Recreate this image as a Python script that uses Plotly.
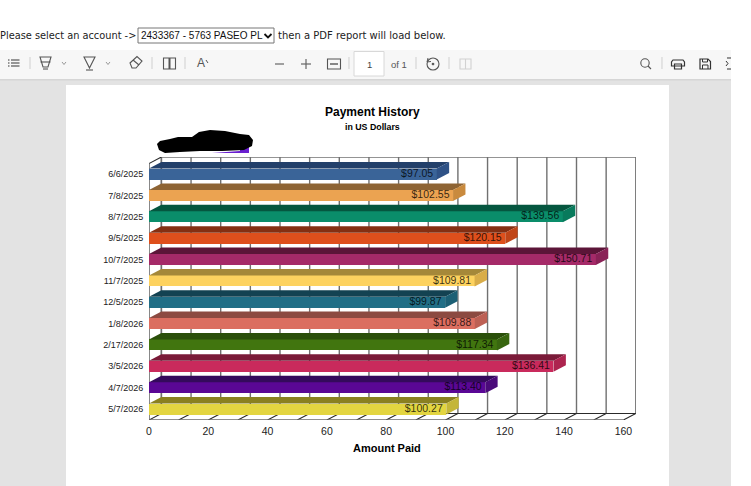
import plotly.graph_objects as go

dates = ["6/6/2025","7/8/2025","8/7/2025","9/5/2025","10/7/2025","11/7/2025","12/5/2025","1/8/2026","2/17/2026","3/5/2026","4/7/2026","5/7/2026"]
amounts = [97.05,102.55,139.56,120.15,150.71,109.81,99.87,109.88,117.34,136.41,113.40,100.27]
front_colors = ["#3a6498","#eba351","#0a8d6a","#de4f1c","#a52a68","#fdd25f","#216e86","#db6e60","#41750f","#c92a5c","#5a0795","#e3d540"]
top_colors = ["#23406a","#8e6434","#05563f","#842f12","#5c1538","#a58839","#134252","#8c4a41","#2a4f0a","#7a1a38","#340a5c","#8a8020"]
side_colors = ["#2f5286","#c98a3e","#087a5c","#c04518","#8a2257","#d9ad49","#1c5f74","#bd6054","#38660f","#ad244f","#4a0a7a","#c4b638"]
x_tick_labels = [0,20,40,60,80,100,120,140,160]
grid_values = [0,10,20,30,40,50,60,70,80,90,100,110,120,130,140,150,160]

W, H = 751, 486
PX = 2.965
LEFT, RIGHT, TOP, BOTTOM = 149, 636, 157, 420
PITCH, Y0 = 21.36, 174.1
DX = 12.4 / PX
DY = 6.5 / PITCH
BAR_H = 11 / PITCH
xmax = (RIGHT - LEFT) / PX
ytop = (TOP - Y0) / PITCH
ybot = (BOTTOM - Y0) / PITCH

def px(x): return x / W
def py(y): return 1 - y / H

fig = go.Figure()

# ---- chart walls (lower subplot, drawn beneath the bars)
gx, gy = [], []
for v in grid_values:
    gx += [v + DX, v + DX, None]
    gy += [ytop, ybot - DY, None]
gx += [DX, 160 + DX, None]; gy += [ytop, ytop, None]
gx += [DX, DX, None]; gy += [ytop, ybot - DY, None]
fig.add_trace(go.Scatter(x=gx, y=gy, mode="lines", line=dict(color="#707070", width=1.4),
                         hoverinfo="skip", showlegend=False, xaxis="x", yaxis="y"))
fx, fy = [], []
for v in grid_values:
    fx += [v, v + DX, None]
    fy += [ybot, ybot - DY, None]
fx += [DX, 160 + DX, None]; fy += [ybot - DY, ybot - DY, None]
fx += [0, DX, None]; fy += [ytop + DY, ytop, None]
fig.add_trace(go.Scatter(x=fx, y=fy, mode="lines", line=dict(color="#2a2a2a", width=1.1),
                         hoverinfo="skip", showlegend=False, xaxis="x", yaxis="y"))
fig.add_trace(go.Scatter(x=[0, 0, None, 0, 160], y=[ytop + DY, ybot, None, ybot, ybot], mode="lines",
                         line=dict(color="#6a6a6a", width=1.6),
                         hoverinfo="skip", showlegend=False, xaxis="x", yaxis="y"))

# ---- bars (upper subplot)
idx = list(range(len(dates)))
fig.add_trace(go.Bar(y=idx, x=amounts, orientation="h", width=BAR_H, marker=dict(color=front_colors, line=dict(width=0)),
                     hoverinfo="skip", showlegend=False, xaxis="x2", yaxis="y2"))
for i, v in enumerate(amounts):
    t, b = i - BAR_H / 2, i + BAR_H / 2
    fig.add_trace(go.Scatter(x=[0, v, v + DX, DX, 0], y=[t, t, t - DY, t - DY, t], mode="lines", fill="toself",
                             fillcolor=top_colors[i], line=dict(width=0), hoverinfo="skip", showlegend=False,
                             xaxis="x2", yaxis="y2"))
    fig.add_trace(go.Scatter(x=[v, v + DX, v + DX, v, v], y=[t, t - DY, b - DY, b, t], mode="lines", fill="toself",
                             fillcolor=side_colors[i], line=dict(width=0), hoverinfo="skip", showlegend=False,
                             xaxis="x2", yaxis="y2"))
fig.add_trace(go.Scatter(x=[v - 1.2 for v in amounts], y=idx, mode="text", text=[f"${v:.2f}" for v in amounts],
                         textposition="middle left", textfont=dict(family="Liberation Sans", size=10.5, color="rgba(0,0,0,0.78)"),
                         hoverinfo="skip", showlegend=False, xaxis="x2", yaxis="y2"))

dom_x = [px(LEFT), px(RIGHT)]
dom_y = [py(BOTTOM), py(TOP)]
hidden = dict(visible=False, fixedrange=True)

# ---- page chrome, built in page pixels
shapes, notes = [], []
def rect(x0, y0, x1, y1, fill, line=None, lw=1, layer="below"):
    shapes.append(dict(type="rect", xref="paper", yref="paper", x0=px(x0), x1=px(x1), y0=py(y0), y1=py(y1),
                       fillcolor=fill, line=dict(color=line or fill, width=lw if line else 0), layer=layer))
def path(pts, color="#555555", lw=1.1, fill=None, closed=False, layer="above"):
    d = "M " + " L ".join(f"{px(x):.5f},{py(y):.5f}" for x, y in pts) + (" Z" if closed else "")
    shapes.append(dict(type="path", xref="paper", yref="paper", path=d, fillcolor=fill or "rgba(0,0,0,0)",
                       line=dict(color=color, width=lw), layer=layer))
def circle(cx, cy, r, color="#555555", lw=1.1):
    shapes.append(dict(type="circle", xref="paper", yref="paper", x0=px(cx - r), x1=px(cx + r), y0=py(cy + r), y1=py(cy - r),
                       line=dict(color=color, width=lw), layer="above"))
def note(x, y, s, size=10, family="Liberation Sans", color="#000000", anchor="center", bold=False):
    notes.append(dict(xref="paper", yref="paper", x=px(x), y=py(y), text=f"<b>{s}</b>" if bold else s, showarrow=False,
                      xanchor=anchor, yanchor="middle", font=dict(family=family, size=size, color=color), borderpad=0, borderwidth=0))

rect(0, 50, 731, 486, "#e3e3e3")
rect(0, 50, 731, 79, "#f7f7f7")
rect(0, 79, 731, 80.5, "#d6d6d6")
rect(66, 85, 669, 486, "#ffffff")

note(0, 35.5, "Please select an account -&gt;", size=9.8, family="DejaVu Sans", color="#222222", anchor="left")
rect(138, 28, 274, 43, "#ffffff", "#767676", 1)
note(141, 35.5, "2433367 - 5763 PASEO PL", size=10, color="#111111", anchor="left")
path([(264.5, 34), (268, 37.5), (271.5, 34)], color="#111111", lw=1.8)
note(278, 35.5, "then a PDF report will load below.", size=10, family="DejaVu Sans", color="#222222", anchor="left")

# toolbar separators
for sx in (30, 152, 185, 349, 416, 449, 662):
    path([(sx, 57), (sx, 69)], color="#cfcfcf", lw=1)
# contents list
for ly in (60, 63, 66):
    path([(8, ly), (9.5, ly)], color="#555555", lw=1.2)
    path([(11, ly), (19.5, ly)], color="#555555", lw=1.2)
# highlight and draw funnels with chevrons
path([(40, 57), (51, 57), (48, 67), (43, 67)], closed=True)
path([(40.5, 62), (50.5, 62)])
path([(43, 69), (48, 69)])
path([(62, 62), (64, 64.5), (66, 62)], color="#999999", lw=1)
path([(84, 57), (95, 57), (89.5, 68)], closed=True)
path([(86, 70), (93, 70)])
path([(106, 62), (108, 64.5), (110, 62)], color="#999999", lw=1)
# eraser
path([(130, 63), (137, 56.5), (142, 61), (136, 68), (132, 68)], closed=True)
path([(133, 60), (139, 65)])
# read aloud / text box
shapes.append(dict(type="rect", xref="paper", yref="paper", x0=px(163.5), x1=px(175.5), y0=py(69), y1=py(58),
                   line=dict(color="#555555", width=1.1), layer="above"))
path([(169.5, 58), (169.5, 69)], lw=2)
# font size A
note(201, 63.5, "A", size=12, color="#555555")
path([(206, 60), (208, 63)], lw=1)
# zoom
path([(275, 64), (284, 64)], color="#666666", lw=1.2)
path([(301, 64), (311, 64)], color="#666666", lw=1.2)
path([(306, 59), (306, 69)], color="#666666", lw=1.2)
shapes.append(dict(type="rect", xref="paper", yref="paper", x0=px(327.5), x1=px(340.5), y0=py(69), y1=py(59),
                   line=dict(color="#555555", width=1.1), layer="above"))
path([(330, 64), (338, 64)], lw=1.4)
# page box
rect(354, 51.5, 384, 76, "#ffffff", "#d8d8d8", 1, layer="above")
note(369, 64, "1", size=9.5, color="#444444")
note(399, 64, "of 1", size=9.5, color="#555555")
# rotate
circle(433, 64, 6)
circle(433, 64, 0.8)
path([(428, 58), (427, 62), (431, 61.5)], lw=1)
# disabled page view
path([(460, 59), (471, 59), (471, 69), (460, 69)], color="#d2d2d2", closed=True)
path([(465.5, 59), (465.5, 69)], color="#d2d2d2")
# search
circle(645, 63, 4.2, lw=1.1)
path([(648, 66), (651, 69)])
# print
path([(673, 60), (683, 60), (684.5, 62), (684.5, 66), (671.5, 66), (671.5, 62)], color="#333333", lw=1.2, closed=True)
path([(674.5, 64), (681.5, 64), (681.5, 69), (674.5, 69)], color="#333333", lw=1.2, closed=True)
# save
path([(700, 59), (708, 59), (710.5, 61.5), (710.5, 69), (700, 69)], color="#333333", lw=1.2, closed=True)
path([(702.5, 59), (702.5, 62), (707.5, 62), (707.5, 59)], color="#333333", lw=1)
path([(702.5, 69), (702.5, 65), (708, 65), (708, 69)], color="#333333", lw=1)
# cut-off settings icon
path([(727, 58), (731, 58)], color="#333333", lw=1)
path([(726, 61), (728, 63.5), (726, 66)], color="#333333", lw=1)
path([(727, 69), (731, 69)], color="#333333", lw=1)

# scribbled-out redaction
path([(240, 145), (249, 145), (249, 153), (212, 153), (240, 151)], color="#6a1fd0", lw=0, fill="#6a1fd0", closed=True, layer="above")
path([(157, 144), (160, 141), (170, 139), (178, 137), (192, 137), (199, 132), (210, 130), (225, 131), (240, 134),
      (249, 135), (253, 140), (252, 146), (244, 150), (222, 151), (200, 151), (180, 152), (165, 153), (159, 150)],
     color="#000000", lw=0, fill="#000000", closed=True, layer="above")

# chart texts
note(372.5, 112, "Payment History", size=12, bold=True)
note(372, 127, "in US Dollars", size=8.8, bold=True)
note(386.5, 448, "Amount Paid", size=11, bold=True)

fig.update_layout(
    width=W, height=H, margin=dict(l=0, r=0, t=0, b=0, pad=0, autoexpand=False), autosize=False,
    paper_bgcolor="#ffffff", plot_bgcolor="rgba(0,0,0,0)", showlegend=False, bargap=0,
    font=dict(family="Liberation Sans", color="#222222"),
    xaxis=dict(domain=dom_x, range=[0, xmax], anchor="y", **hidden),
    yaxis=dict(domain=dom_y, range=[ybot, ytop], anchor="x", **hidden),
    xaxis2=dict(domain=dom_x, range=[0, xmax], anchor="y2", tickmode="array", tickvals=x_tick_labels,
                ticktext=[str(t) for t in x_tick_labels], ticks="outside", ticklen=1, tickcolor="rgba(0,0,0,0)",
                tickfont=dict(family="Liberation Sans", size=10.5, color="#222222"), showgrid=False, zeroline=False,
                showline=False, fixedrange=True),
    yaxis2=dict(domain=dom_y, range=[ybot, ytop], anchor="x2", tickmode="array", tickvals=idx, ticktext=dates,
                ticks="outside", ticklen=3, tickcolor="rgba(0,0,0,0)",
                tickfont=dict(family="Liberation Sans", size=9, color="#222222"), showgrid=False, zeroline=False,
                showline=False, fixedrange=True),
    shapes=shapes, annotations=notes,
)

fig.write_html("out.html", config=dict(displayModeBar=False),
               post_script="document.body.style.margin='0';document.documentElement.style.overflow='hidden';")
